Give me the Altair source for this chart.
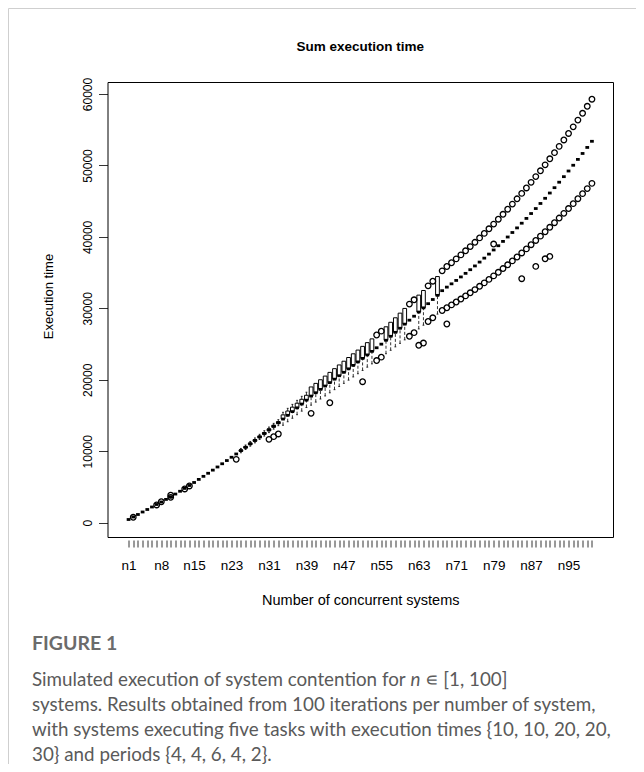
import altair as alt
import pandas as pd

# ---- data ----------------------------------------------------------------
systems = list(range(1, 101))            # n1 .. n100
label_values = [1, 8, 15, 23, 31, 39, 47, 55, 63, 71, 79, 87, 95]
y_ticks = [0, 10000, 20000, 30000, 40000, 50000, 60000]

med = [450, 800, 1150, 1500, 1850, 2200, 2550, 2900, 3260, 3630,
       4010, 4400, 4800, 5210, 5630, 6060, 6490, 6920, 7360, 7800,
       8250, 8700, 9160, 9620, 10090, 10560, 11040, 11520, 12010, 12500,
       13000, 13500, 14000, 14510, 15030, 15550, 16080, 16610, 17150, 17725,
       18190, 18660, 19130, 19610, 20090, 20570, 21050, 21535, 22020, 22505,
       22995, 23485, 23980, 24485, 24990, 25535, 26090, 26645, 27215, 27790,
       28345, 28900, 29485, 30070, 30655, 31240, 31820, 32475, 32972, 33433,
       33908, 34397, 34898, 35411, 35937, 36476, 37029, 37593, 38172, 38764,
       39369, 39986, 40617, 41260, 41918, 42587, 43272, 43970, 44680, 45403,
       46141, 46890, 47655, 48431, 49223, 50028, 50847, 51678, 52523, 53381]

q1 = [450, 800, 1150, 1500, 1850, 2200, 2550, 2900, 3260, 3630,
      4010, 4400, 4800, 5210, 5630, 6060, 6490, 6920, 7360, 7800,
      8250, 8700, 9160, 9620, 9989, 10454, 10930, 11405, 11890, 12375,
      12870, 13365, 13860, 14510, 15030, 15550, 16080, 16610, 17150, 17725,
      18190, 18660, 19130, 19610, 20090, 20570, 21050, 21535, 22020, 22505,
      22995, 23485, 23980, 24485, 24990, 25535, 26090, 26645, 27215, 27790,
      28345, 28900, 29485, 30070, 30655, 31240, 31820, 32475, 32972, 33433,
      33908, 34397, 34898, 35411, 35937, 36476, 37029, 37593, 38172, 38764,
      39369, 39986, 40617, 41260, 41918, 42587, 43272, 43970, 44680, 45403,
      46141, 46890, 47655, 48431, 49223, 50028, 50847, 51678, 52523, 53381]

q3 = [450, 800, 1150, 1500, 1850, 2200, 2550, 2900, 3260, 3630,
      4010, 4400, 4800, 5210, 5630, 6060, 6490, 6920, 7360, 7800,
      8250, 8700, 9160, 9620, 10191, 10666, 11150, 11635, 12130, 12625,
      13130, 13635, 14140, 15090, 15631, 16172, 16723, 17274, 17836, 19000,
      19500, 20010, 20520, 21040, 21560, 22080, 22600, 23120, 23640, 24160,
      24680, 25200, 25730, 24485, 24990, 27420, 28050, 28680, 29330, 29990,
      28345, 28900, 31850, 32500, 30655, 31240, 34450, 32475, 32972, 33433,
      33908, 34397, 34898, 35411, 35937, 36476, 37029, 37593, 38172, 38764,
      39369, 39986, 40617, 41260, 41918, 42587, 43272, 43970, 44680, 45403,
      46141, 46890, 47655, 48431, 49223, 50028, 50847, 51678, 52523, 53381]

whisker_lo = [450, 800, 1150, 1500, 1850, 2200, 2550, 2900, 3260, 3630,
              4010, 4400, 4800, 5210, 5630, 6060, 6490, 6920, 7360, 7800,
              8250, 8700, 9160, 9620, 9787, 10243, 10709, 11174, 11650, 12125,
              12610, 13095, 13580, 13639, 14128, 14617, 15115, 15613, 16121, 16450,
              16880, 17310, 17740, 18180, 18620, 19060, 19500, 19950, 20400, 20850,
              21310, 21770, 22230, 24485, 24990, 23650, 24130, 24610, 25100, 25590,
              28345, 28900, 27120, 27640, 30655, 31240, 29190, 32475, 32972, 33433,
              33908, 34397, 34898, 35411, 35937, 36476, 37029, 37593, 38172, 38764,
              39369, 39986, 40617, 41260, 41918, 42587, 43272, 43970, 44680, 45403,
              46141, 46890, 47655, 48431, 49223, 50028, 50847, 51678, 52523, 53381]

whisker_hi = [450, 800, 1150, 1500, 1850, 2200, 2550, 2900, 3260, 3630,
              4010, 4400, 4800, 5210, 5630, 6060, 6490, 6920, 7360, 7800,
              8250, 8700, 9160, 9620, 10393, 10877, 11371, 11866, 12370, 12875,
              13390, 13905, 14420, 15453, 16007, 16561, 17125, 17690, 18265, 19000,
              19500, 20010, 20520, 21040, 21560, 22080, 22600, 23120, 23640, 24160,
              24680, 25200, 25730, 24485, 24990, 27420, 28050, 28680, 29330, 29990,
              28345, 28900, 31850, 32500, 30655, 31240, 34450, 32475, 32972, 33433,
              33908, 34397, 34898, 35411, 35937, 36476, 37029, 37593, 38172, 38764,
              39369, 39986, 40617, 41260, 41918, 42587, 43272, 43970, 44680, 45403,
              46141, 46890, 47655, 48431, 49223, 50028, 50847, 51678, 52523, 53381]

# scattered outliers
out_sys = [2, 7, 8, 10, 10, 13, 14, 24, 31, 32, 33, 40, 44, 51,
           54, 54, 55, 55, 61, 61, 62, 62, 63, 64, 65, 65, 66, 66,
           69, 79, 85, 88, 90, 91]
out_val = [760, 2480, 2940, 3550, 3850, 4720, 5140, 8870, 11670, 12040, 12420,
           15310, 16790, 19730,
           26270, 22700, 26810, 23170, 30600, 26090, 31200, 26600, 24830, 25150,
           33150, 28160, 33800, 28680,
           27810, 39000, 34150, 35870, 36940, 37270]

# upper and lower outlier bands for n68..n100
band_sys = list(range(68, 101))
band_hi = [35250, 35857, 36383, 36926, 37485, 38057, 38643, 39244, 39859, 40491,
           41136, 41797, 42476, 43168, 43874, 44596, 45332, 46085, 46852, 47637,
           48439, 49254, 50084, 50931, 51792, 52671, 53564, 54475, 55404, 56347,
           57305, 58280, 59270]
band_lo = [29700, 30086, 30482, 30890, 31308, 31738, 32178, 32630, 33092, 33566,
           34050, 34546, 35052, 35570, 36098, 36638, 37188, 37750, 38322, 38906,
           39500, 40106, 40722, 41350, 41988, 42638, 43298, 43970, 44652, 45346,
           46050, 46766, 47492]

caption_title = "FIGURE 1"
caption_lines = [
    "systems. Results obtained from 100 iterations per number of system,",
    "with systems executing five tasks with execution times {10, 10, 20, 20,",
    "30} and periods {4, 4, 6, 4, 2}.",
]

# ---- build -----------------------------------------------------------------
W, H = 505.5, 455
FONT = "Liberation Sans"

df = pd.DataFrame({"n": systems, "med": med, "q1": q1, "q3": q3,
                   "wlo": whisker_lo, "whi": whisker_hi})
outs = pd.DataFrame({"n": out_sys + band_sys + band_sys,
                     "v": out_val + band_hi + band_lo})

lbl = "[" + ",".join(str(v) for v in label_values) + "]"
xscale = alt.Scale(domain=[-3.5, 104.5], nice=False, zero=False)
yscale = alt.Scale(domain=[-2000, 61680], nice=False, zero=False)
xaxis = alt.Axis(values=systems, labelExpr=f"indexof({lbl}, datum.value) >= 0 ? 'n' + datum.value : ''",
                 domain=False, grid=False, ticks=True, tickSize=7, tickColor="black", tickWidth=0.8,
                 offset=3, labelPadding=11, labelFont=FONT, labelFontSize=13.5, labelColor="black",
                 labelOverlap=False, labelFlush=False, labelBound=False,
                 title="Number of concurrent systems", titleFont=FONT, titleFontSize=14.5,
                 titleFontWeight="normal", titleColor="black", titleX=W / 2, titleY=60,
                 titleAlign="center", titleBaseline="middle")
yaxis = alt.Axis(values=y_ticks, format="d", domain=False, grid=False, tickSize=9,
                 tickColor="black", tickWidth=0.8, labelAngle=270, labelAlign="center",
                 labelBaseline="bottom", labelPadding=4, labelFont=FONT, labelFontSize=12,
                 labelColor="black", labelOverlap=False, labelFlush=False,
                 title="Execution time", titleFont=FONT, titleFontSize=13,
                 titleFontWeight="normal", titleColor="black", titleAngle=270,
                 titleX=-59.5, titleY=214, titleAlign="center", titleBaseline="middle")


def X(f):
    return alt.X(f"{f}:Q", scale=xscale, axis=xaxis)


def Y(f):
    return alt.Y(f"{f}:Q", scale=yscale, axis=yaxis)


base = alt.Chart(df).transform_calculate(
    xl="datum.n - 0.4", xr="datum.n + 0.4", sl="datum.n - 0.2", sr="datum.n + 0.2")

low = base.transform_filter("datum.wlo < datum.q1")
high = base.transform_filter("datum.whi > datum.q3")

w_lo = low.mark_rule(color="black", strokeWidth=0.8, strokeDash=[3, 2]).encode(
    x=X("n"), y=Y("wlo"), y2="q1")
w_hi = high.mark_rule(color="black", strokeWidth=0.8, strokeDash=[3, 2]).encode(
    x=X("n"), y=Y("q3"), y2="whi")
s_lo = low.mark_rule(color="black", strokeWidth=0.8).encode(x=X("sl"), x2="sr", y=Y("wlo"))
s_hi = high.mark_rule(color="black", strokeWidth=0.8).encode(x=X("sl"), x2="sr", y=Y("whi"))
boxes = base.transform_filter("datum.q3 > datum.q1").mark_rect(
    fill="white", stroke="black", strokeWidth=1).encode(x=X("xl"), x2="xr", y=Y("q1"), y2="q3")
medians = base.mark_rule(color="black", strokeWidth=2.8, strokeCap="butt").encode(
    x=X("xl"), x2="xr", y=Y("med"))
points = alt.Chart(outs).mark_point(shape="circle", filled=False, size=31, stroke="black",
                                    strokeWidth=1.3, opacity=1).encode(x=X("n"), y=Y("v"))

one = pd.DataFrame({"a": [0]})


def txt(s, x, y, **kw):
    return alt.Chart(one).mark_text(text=s, align="left", baseline="middle", **kw).encode(
        x=alt.value(x), y=alt.value(y))


title = alt.Chart(one).mark_text(text="Sum execution time", align="center", baseline="middle",
                                 font=FONT, fontSize=13.5, fontWeight="bold", color="black").encode(
    x=alt.value(W / 2), y=alt.value(-35))

CAP = 18.8
cap_kw = dict(font="Lato", fontSize=CAP, color="#5a5a5a")
caps = [txt(caption_title, -75.5, 562, font="Lato", fontSize=19.5, fontWeight="bold", color="#6b6b6b"),
        txt("Simulated execution of system contention for", -75.5, 597.5, **cap_kw),
        txt("n", 303, 597.5, font="Lato", fontSize=CAP, fontStyle="italic", color="#5a5a5a"),
        txt("∊ [1, 100]", 317, 597.5, **cap_kw)]
for i, line in enumerate(caption_lines):
    caps.append(txt(line, -75.5, 622.8 + i * 25.2, **cap_kw))

border_top = alt.Chart(one).mark_rule(color="#cfcfcf", strokeWidth=1).encode(
    x=alt.value(-99), x2=alt.value(540), y=alt.value(-73.5))
border_left = alt.Chart(one).mark_rule(color="#cfcfcf", strokeWidth=1).encode(
    x=alt.value(-99), y=alt.value(-73.5), y2=alt.value(690))

chart = alt.layer(border_top, border_left, w_lo, w_hi, s_lo, s_hi, boxes, medians, points,
                  title, *caps).properties(
    width=W, height=H,
    autosize=alt.AutoSizeParams(type="none"),
    padding={"left": 99.5, "top": 74, "right": 23, "bottom": 227},
).configure_view(stroke="black", strokeWidth=1)

chart.save("out.html", embed_options={"renderer": "svg", "actions": False})
